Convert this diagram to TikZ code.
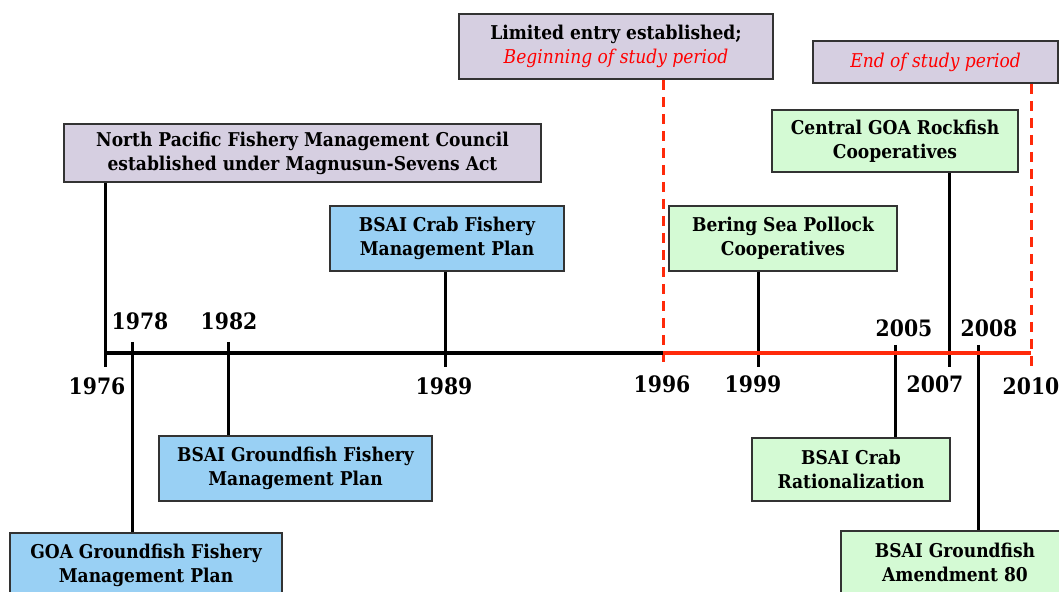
\documentclass[tikz,border=0pt]{standalone}
\usepackage{fontspec}
\setmainfont{DejaVu Serif Condensed}
\usetikzlibrary{positioning}

\definecolor{lila}{HTML}{D6CFE1}
\definecolor{azzurro}{HTML}{99D0F4}
\definecolor{verde}{HTML}{D4FAD4}
\definecolor{rosso}{HTML}{FF2A0A}

\begin{document}
\begin{tikzpicture}[x=0.5pt,y=-0.5pt,line join=miter,
    font=\fontsize{9.5}{12}\selectfont\bfseries,
    evento/.style={draw=black!80,line width=0.8pt,align=center,inner sep=0pt},
    viola/.style={evento,fill=lila},
    blu/.style={evento,fill=azzurro},
    verd/.style={evento,fill=verde},
    asta/.style={line width=1.5pt},
    asse/.style={line width=2.3pt},
    periodo/.style={rosso,line width=1.5pt,dash pattern=on 5pt off 3.5pt},
    anno/.style={inner sep=0pt,font=\fontsize{11.3}{13}\selectfont\bfseries}]

  \useasboundingbox (0,0) rectangle (1059,592);
  \clip (0,0) rectangle (1059,592);

  % ======================= punti sull'asse =======================
  \coordinate (y1976) at ( 105,353);
  \coordinate (y1978) at ( 132,353);
  \coordinate (y1982) at ( 228,353);
  \coordinate (y1989) at ( 445,353);
  \coordinate (y1996) at ( 663,353);
  \coordinate (y1999) at ( 758,353);
  \coordinate (y2005) at ( 895,353);
  \coordinate (y2007) at ( 949,353);
  \coordinate (y2008) at ( 978,353);
  \coordinate (y2010) at (1031,353);

  % estremi liberi delle aste
  \coordinate (b1976) at ( 105,367);
  \coordinate (a1978) at ( 132,342);
  \coordinate (a1982) at ( 228,342);
  \coordinate (b1989) at ( 445,367);
  \coordinate (b1996) at ( 663,367);
  \coordinate (b1999) at ( 758,367);
  \coordinate (a2005) at ( 895,345);
  \coordinate (b2007) at ( 949,367);
  \coordinate (a2008) at ( 978,345);
  \coordinate (b2010) at (1031,367);

  % ======================= riquadri =======================
  \node[viola,minimum width=238.5pt,minimum height=29pt] (npfmc) at (302.5,153)
    {North Pacific Fishery Management Council\\established under Magnusun-Sevens Act};
  \node[viola,minimum width=157pt,minimum height=32.5pt] (limited) at (616,46.5)
    {Limited entry established;\\\textcolor{red}{\mdseries\itshape Beginning of study period}};
  \node[viola,minimum width=122.5pt,minimum height=21pt] (fine) at (935.5,62)
    {\textcolor{red}{\mdseries\itshape End of study period}};

  \node[blu,minimum width=117pt,minimum height=32.5pt] (crabfmp) at (447,238.5)
    {BSAI Crab Fishery\\Management Plan};
  \node[blu,minimum width=136.5pt,minimum height=32.5pt] (bsaigf) at (295.5,468.5)
    {BSAI Groundfish Fishery\\Management Plan};
  \node[blu,minimum width=136pt,minimum height=32.5pt] (goagf) at (146,565.5)
    {GOA Groundfish Fishery\\Management Plan};

  \node[verd,minimum width=123pt,minimum height=31pt] (rockfish) at (895,141)
    {Central GOA Rockfish\\Cooperatives};
  \node[verd,minimum width=114pt,minimum height=32.5pt] (pollock) at (783,238.5)
    {Bering Sea Pollock\\Cooperatives};
  \node[verd,minimum width=99pt,minimum height=31.5pt] (crabrat) at (851,469.5)
    {BSAI Crab\\Rationalization};
  \node[verd,minimum width=114pt,minimum height=31.5pt] (am80) at (955,562.5)
    {BSAI Groundfish\\Amendment 80};

  % ======================= periodo di studio =======================
  \draw[periodo] (limited.south -| y1996) -- (b1996);
  \draw[periodo] (fine.south -| y2010) -- (b2010);

  % ======================= aste =======================
  \draw[asta] (npfmc.south -| y1976) -- (b1976);
  \draw[asta] (a1978) -- (goagf.north -| y1978);
  \draw[asta] (a1982) -- (bsaigf.north -| y1982);
  \draw[asta] (crabfmp.south -| y1989) -- (b1989);
  \draw[asta] (pollock.south -| y1999) -- (b1999);
  \draw[asta] (a2005) -- (crabrat.north -| y2005);
  \draw[asta] (rockfish.south -| y2007) -- (b2007);
  \draw[asta] (a2008) -- (am80.north -| y2008);

  % ======================= asse =======================
  \draw[asse] (y1976) -- (y1996);
  \draw[asse,rosso] (y1996) -- (y2010);

  % ======================= anni =======================
  \node[anno] (l1976) at ( 97,386) {1976};
  \node[anno] (l1978) at (140,321) {1978};
  \node[anno] (l1982) at (229,321) {1982};
  \node[anno] (l1989) at (444,386) {1989};
  \node[anno] (l1996) at (662,384) {1996};
  \node[anno] (l1999) at (753,384) {1999};
  \node[anno] (l2005) at (904,328) {2005};
  \node[anno] (l2007) at (935,384) {2007};
  \node[anno] (l2008) at (989,328) {2008};
  \node[anno] (l2010) at (1031,386) {2010};

\end{tikzpicture}
\end{document}
